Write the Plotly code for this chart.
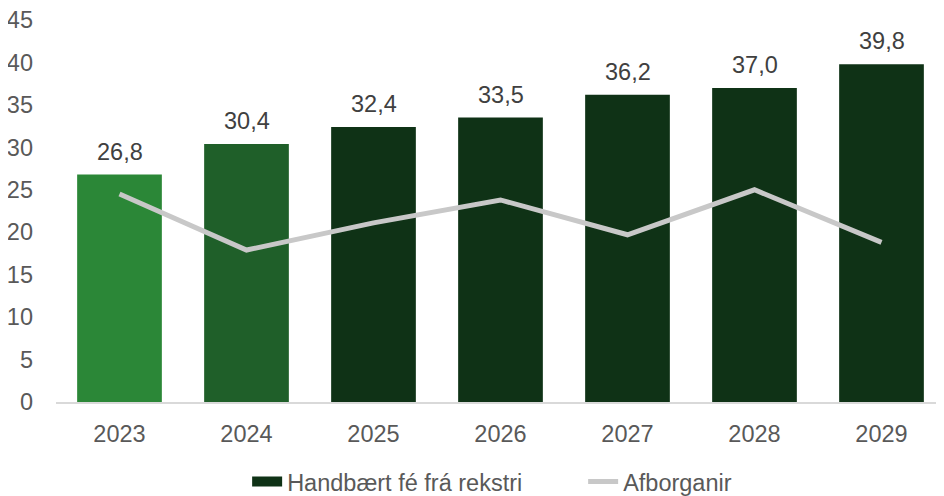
import plotly.graph_objects as go

# ── Data ──
YEARS = ["2023", "2024", "2025", "2026", "2027", "2028", "2029"]
CASH_FROM_OPS = [26.8, 30.4, 32.4, 33.5, 36.2, 37.0, 39.8]
REPAYMENTS = [24.5, 17.9, 21.1, 23.8, 19.7, 25.0, 18.8]
BAR_COLORS = ["#2B8737", "#1F5F29", "#0F3216", "#0F3216", "#0F3216", "#0F3216", "#0F3216"]

FONT = "Liberation Sans, Arial, sans-serif"
TICK_COLOR = "#595959"
FS = 23.5

fig = go.Figure()
fig.add_trace(go.Bar(
    x=YEARS, y=CASH_FROM_OPS,
    name="Handbært fé frá rekstri",
    marker=dict(color=BAR_COLORS, line=dict(width=0)),
    showlegend=False,
))
# legend proxy: wide dark rectangle like the original key
fig.add_trace(go.Scatter(
    x=[None], y=[None], mode="lines",
    name="Handbært fé frá rekstri",
    line=dict(color="#0F3216", width=11),
))
fig.add_trace(go.Scatter(
    x=YEARS, y=REPAYMENTS,
    name="Afborganir",
    mode="lines",
    line=dict(color="#C8C8C8", width=5),
))

# value labels above bars (category axis -> annotation x is the category index)
for i, v in enumerate(CASH_FROM_OPS):
    fig.add_annotation(
        x=i, y=v, text=f"{v:.1f}".replace(".", ","),
        showarrow=False, yanchor="middle", yshift=23,
        font=dict(size=FS, color="#404040", family=FONT),
    )

# page body adds an 8px offset, so margins are shifted accordingly
fig.update_layout(
    width=944, height=496,
    paper_bgcolor="white", plot_bgcolor="white",
    font=dict(family=FONT, color=TICK_COLOR, size=FS),
    margin=dict(l=48, r=7, t=12, b=102, autoexpand=False),
    bargap=0.333,
    showlegend=True,
    legend=dict(
        orientation="h", x=0.215, xanchor="left", y=-0.209, yanchor="middle",
        font=dict(size=FS, color=TICK_COLOR), traceorder="normal",
        itemwidth=30, entrywidth=291,
    ),
)
fig.update_xaxes(
    type="category",
    showline=True, linecolor="#D9D9D9", linewidth=2,
    showgrid=False, ticks="", tickfont=dict(size=FS, color=TICK_COLOR),
    ticklabelstandoff=10,
)
fig.update_yaxes(
    range=[0, 45], dtick=5, showgrid=False, zeroline=False, showline=False,
    tickfont=dict(size=FS, color=TICK_COLOR), ticks="", ticklabelstandoff=22,
    ticklabeloverflow="allow",
)

fig.write_html("out.html")
